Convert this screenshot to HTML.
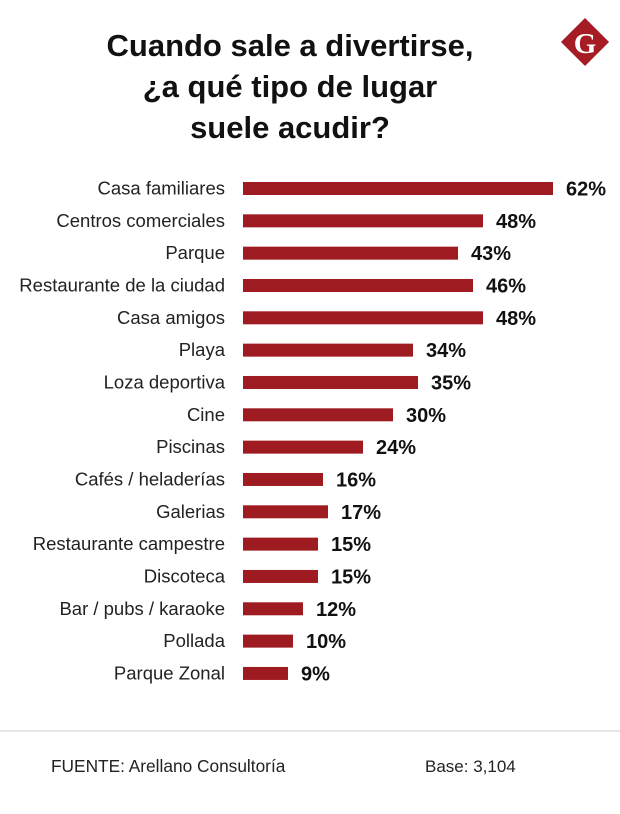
<!DOCTYPE html>
<html><head><meta charset="utf-8"><style>
body{margin:0;background:#fff;width:620px;height:809px;overflow:hidden;font-family:"Liberation Sans",sans-serif;}
</style></head><body>
<svg width="620" height="809">
<g font-family="Liberation Sans" font-weight="bold" font-size="31" text-anchor="middle" fill="#111">
<text x="290" y="56">Cuando sale a divertirse,</text>
<text x="290" y="97">¿a qué tipo de lugar</text>
<text x="290" y="138">suele acudir?</text>
</g>
<g>
<rect x="568" y="25" width="34" height="34" fill="#a51c24" transform="rotate(45 585 42)"/>
<text x="585" y="53" text-anchor="middle" font-family="Liberation Serif" font-weight="bold" font-size="29" fill="#fff">G</text>
</g>
<g id="bars"></g>
<line x1="0" y1="731" x2="620" y2="731" stroke="#ccc" stroke-width="1"/>
<text x="51" y="772" font-size="17.3" fill="#222">FUENTE: Arellano Consultoría</text>
<text x="425" y="772" font-size="17" fill="#222">Base: 3,104</text>
</svg>
<script>
const categories=["Casa familiares","Centros comerciales","Parque","Restaurante de la ciudad","Casa amigos","Playa","Loza deportiva","Cine","Piscinas","Cafés / heladerías","Galerias","Restaurante campestre","Discoteca","Bar / pubs / karaoke","Pollada","Parque Zonal"];
const values=[62,48,43,46,48,34,35,30,24,16,17,15,15,12,10,9];
const labels=["62%","48%","43%","46%","48%","34%","35%","30%","24%","16%","17%","15%","15%","12%","10%","9%"];
const x0=243, pxPer=310/62, y0=188.5, step=32.33, bh=13;
const xs=v=>v*pxPer;
const ys=i=>y0+i*step;
const g=document.getElementById('bars');
const NS='http://www.w3.org/2000/svg';
categories.forEach((c,i)=>{
  const y=ys(i);
  const t=document.createElementNS(NS,'text');
  t.setAttribute('x',225);t.setAttribute('y',y+6);t.setAttribute('text-anchor','end');
  t.setAttribute('font-size','18.5');t.setAttribute('fill','#222');t.textContent=c;
  
  
  g.appendChild(t);
  const r=document.createElementNS(NS,'rect');
  r.setAttribute('x',x0);r.setAttribute('y',y-bh/2);r.setAttribute('width',xs(values[i]));r.setAttribute('height',bh);r.setAttribute('fill','#9e1b21');
  
  
  g.appendChild(r);
  const v=document.createElementNS(NS,'text');
  v.setAttribute('x',x0+xs(values[i])+13);v.setAttribute('y',y+7);
  v.setAttribute('font-size','20');v.setAttribute('font-weight','bold');v.setAttribute('fill','#111');v.textContent=labels[i];
  
  
  g.appendChild(v);
});
</script>
</body></html>
